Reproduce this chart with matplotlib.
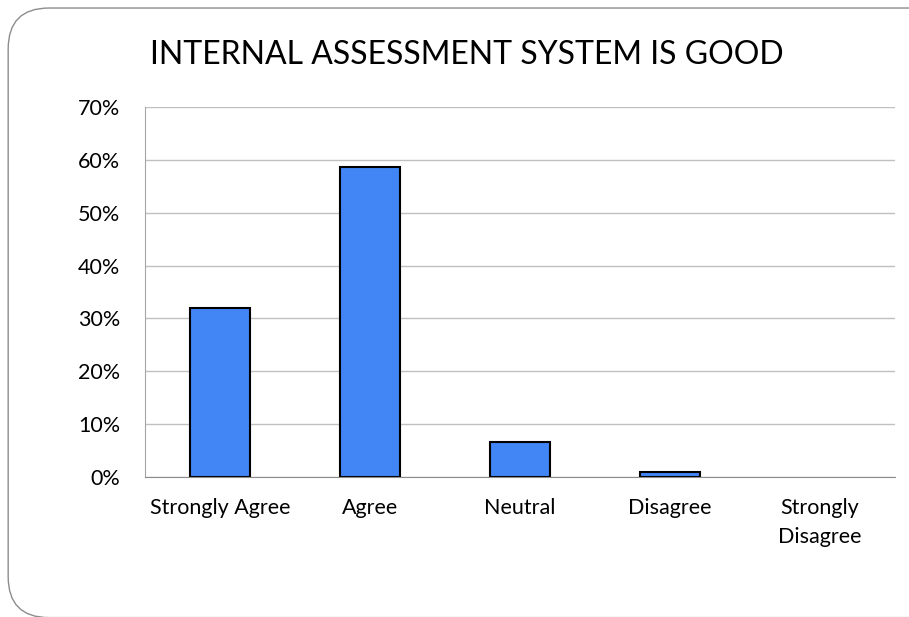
import matplotlib
matplotlib.use("Agg")
import matplotlib.pyplot as plt
from matplotlib.patches import FancyBboxPatch
from matplotlib.ticker import PercentFormatter

plt.rcParams['font.family'] = ['Lato', 'DejaVu Sans']

categories = ["Strongly Agree", "Agree", "Neutral", "Disagree", "Strongly\nDisagree"]
values = [32.0, 58.6, 6.6, 1.0, 0.0]
yticks = [0, 10, 20, 30, 40, 50, 60, 70]

fig = plt.figure(figsize=(9.09, 6.17), dpi=100)

# rounded outer frame, runs off the right and bottom edges like the original slide crop
frame = FancyBboxPatch((0.009, -0.001), 1.05, 0.988,
                       boxstyle="round,pad=0,rounding_size=0.045",
                       transform=fig.transFigure, facecolor="white",
                       edgecolor="#8c8c8c", linewidth=1.0,
                       mutation_aspect=909/617, zorder=-10)
fig.patches.append(frame)

ax = fig.add_axes([0.1595, 0.2269, 0.8251, 0.5997])
ax.set_zorder(5)
x = range(len(categories))
bars = ax.bar(x, values, width=0.4, color="#4285F4", edgecolor="black", linewidth=1.5, zorder=3)
for b, v in zip(bars, values):
    if v == 0:
        b.set_linewidth(0)

ax.set_ylim(0, 70)
ax.set_xlim(-0.5, len(categories) - 0.5)
ax.set_yticks(yticks)
ax.yaxis.set_major_formatter(PercentFormatter(decimals=0))
ax.set_xticks(list(x))
ax.set_xticklabels(categories, fontsize=15.5, linespacing=1.6)
ax.tick_params(axis="y", labelsize=15.5, length=0, pad=18)
ax.tick_params(axis="x", length=0, pad=15)
ax.grid(axis="y", color="#c0c0c0", linewidth=1.0, zorder=0)
ax.set_facecolor("none")
for s in ["top", "right"]:
    ax.spines[s].set_visible(False)
ax.spines["left"].set_color("#a6a6a6")
ax.spines["bottom"].set_color("#8c8c8c")
ax.spines["bottom"].set_zorder(4)

fig.text(0.513, 0.911, "INTERNAL ASSESSMENT SYSTEM IS GOOD", ha="center", va="center", fontsize=23)

fig.savefig("out.png", dpi=100)
